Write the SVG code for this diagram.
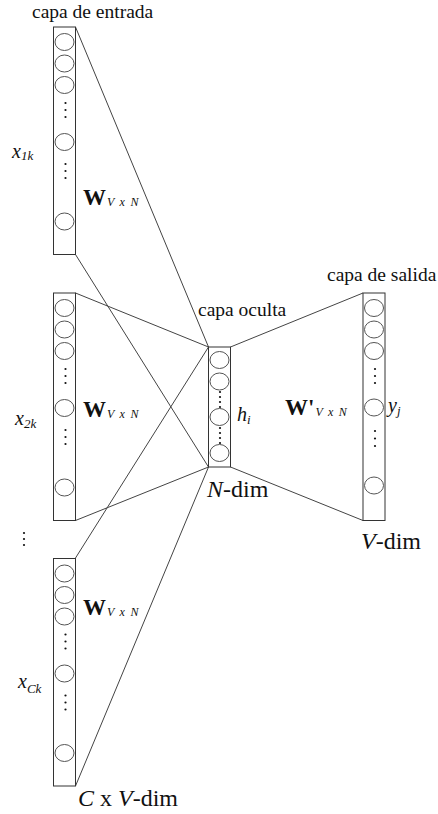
<svg xmlns="http://www.w3.org/2000/svg" width="438" height="814" viewBox="0 0 438 814" font-family="'Liberation Serif', 'Times New Roman', serif">
<style>
.bg{fill:#fff}
.layer{fill:#fff;stroke:#333;stroke-width:1}
.neuron{fill:#fff;stroke:#555;stroke-width:1}
.dot{fill:#111}
.conn{stroke:#444;stroke-width:1;fill:none}
text{font-family:"Liberation Serif","Times New Roman",serif;fill:#111}
.lbl{font-size:19.5px}
.dim{font-size:24px}
.w{font-size:23px;font-weight:bold}
.sub{font-size:12px;font-style:italic;word-spacing:2.5px}
.var{font-size:20px;font-style:italic}
.vsub{font-size:13px;font-style:italic}
</style>
<defs>
<g id="inlayer">
<rect class="layer" x="53.5" y="0" width="22" height="227.5"/>
<ellipse class="neuron" cx="64.5" cy="15" rx="9.5" ry="8.5"/>
<ellipse class="neuron" cx="64.5" cy="36.5" rx="9.5" ry="8.5"/>
<ellipse class="neuron" cx="64.5" cy="58" rx="9.5" ry="8.5"/>
<circle class="dot" cx="65.5" cy="76" r="1.1"/>
<circle class="dot" cx="65.5" cy="83" r="1.1"/>
<circle class="dot" cx="65.5" cy="90" r="1.1"/>
<ellipse class="neuron" cx="64.5" cy="115" rx="9.5" ry="8.5"/>
<circle class="dot" cx="65.5" cy="137" r="1.1"/>
<circle class="dot" cx="65.5" cy="144" r="1.1"/>
<circle class="dot" cx="65.5" cy="151" r="1.1"/>
<ellipse class="neuron" cx="64.5" cy="194.5" rx="9.5" ry="8.5"/>
</g>
</defs>
<rect class="bg" x="0" y="0" width="438" height="814"/>

<g id="connectors">
<line class="conn" x1="75.5" y1="27" x2="208.5" y2="347"/>
<line class="conn" x1="75.5" y1="254.5" x2="208.5" y2="467"/>
<line class="conn" x1="75.5" y1="293" x2="208.5" y2="347"/>
<line class="conn" x1="75.5" y1="520.5" x2="208.5" y2="467"/>
<line class="conn" x1="75.5" y1="558" x2="208.5" y2="347"/>
<line class="conn" x1="75.5" y1="786" x2="208.5" y2="467"/>
<line class="conn" x1="230.5" y1="347" x2="363" y2="293"/>
<line class="conn" x1="230.5" y1="467" x2="363" y2="520.5"/>
</g>

<g id="input1">
<use href="#inlayer" x="0" y="27"/>
<text class="lbl" x="32" y="18">capa de entrada</text>
<text x="12" y="158"><tspan class="var">x</tspan><tspan class="vsub" dy="2">1k</tspan></text>
<text x="83" y="205"><tspan class="w">W</tspan><tspan class="sub" dx="1" dy="1">V x N</tspan></text>
</g>

<g id="input2">
<use href="#inlayer" x="0" y="293"/>
<text x="15" y="425"><tspan class="var">x</tspan><tspan class="vsub" dy="3">2k</tspan></text>
<text x="83" y="417"><tspan class="w">W</tspan><tspan class="sub" dx="1" dy="1">V x N</tspan></text>
</g>

<g id="ellipsis">
<circle class="dot" cx="24" cy="533" r="1.1"/>
<circle class="dot" cx="24" cy="539" r="1.1"/>
<circle class="dot" cx="24" cy="545" r="1.1"/>
</g>

<g id="input3">
<use href="#inlayer" x="0" y="558.5"/>
<text x="18" y="688"><tspan class="var">x</tspan><tspan class="vsub" dy="5">Ck</tspan></text>
<text x="83" y="615"><tspan class="w">W</tspan><tspan class="sub" dx="1" dy="1">V x N</tspan></text>
<text class="dim" x="78" y="806"><tspan font-style="italic">C</tspan> x <tspan font-style="italic">V</tspan>-dim</text>
</g>

<g id="hidden">
<rect class="layer" x="208.5" y="347" width="22" height="120"/>
<ellipse class="neuron" cx="219.5" cy="360" rx="9.5" ry="8.5"/>
<ellipse class="neuron" cx="219.5" cy="381.5" rx="9.5" ry="8.5"/>
<circle class="dot" cx="220" cy="392" r="1.1"/>
<circle class="dot" cx="220" cy="397" r="1.1"/>
<circle class="dot" cx="220" cy="402" r="1.1"/>
<circle class="dot" cx="220" cy="407" r="1.1"/>
<ellipse class="neuron" cx="219.5" cy="417" rx="9.5" ry="8.5"/>
<circle class="dot" cx="220" cy="428" r="1.1"/>
<circle class="dot" cx="220" cy="433" r="1.1"/>
<circle class="dot" cx="220" cy="438" r="1.1"/>
<circle class="dot" cx="220" cy="443" r="1.1"/>
<ellipse class="neuron" cx="219.5" cy="453" rx="9.5" ry="8.5"/>
<text class="lbl" x="198" y="316">capa oculta</text>
<text x="237" y="421"><tspan class="var">h</tspan><tspan class="vsub" dy="3">i</tspan></text>
<text class="dim" x="207" y="497"><tspan font-style="italic">N</tspan>-dim</text>
</g>

<g id="output">
<rect class="layer" x="363" y="293" width="22" height="227.5"/>
<ellipse class="neuron" cx="374" cy="308" rx="9.5" ry="8.5"/>
<ellipse class="neuron" cx="374" cy="329.5" rx="9.5" ry="8.5"/>
<ellipse class="neuron" cx="374" cy="351" rx="9.5" ry="8.5"/>
<circle class="dot" cx="375" cy="369" r="1.1"/>
<circle class="dot" cx="375" cy="376" r="1.1"/>
<circle class="dot" cx="375" cy="383" r="1.1"/>
<ellipse class="neuron" cx="374" cy="407.5" rx="9.5" ry="8.5"/>
<circle class="dot" cx="375" cy="431" r="1.1"/>
<circle class="dot" cx="375" cy="438.5" r="1.1"/>
<circle class="dot" cx="375" cy="446" r="1.1"/>
<ellipse class="neuron" cx="374" cy="485.5" rx="9.5" ry="8.5"/>
<text class="lbl" x="327" y="281">capa de salida</text>
<text x="388" y="412"><tspan class="var">y</tspan><tspan class="vsub" dy="3">j</tspan></text>
<text class="dim" x="361" y="549"><tspan font-style="italic">V</tspan>-dim</text>
<text x="285" y="415"><tspan class="w">W'</tspan><tspan class="sub" dx="1" dy="1">V x N</tspan></text>
</g>
</svg>
